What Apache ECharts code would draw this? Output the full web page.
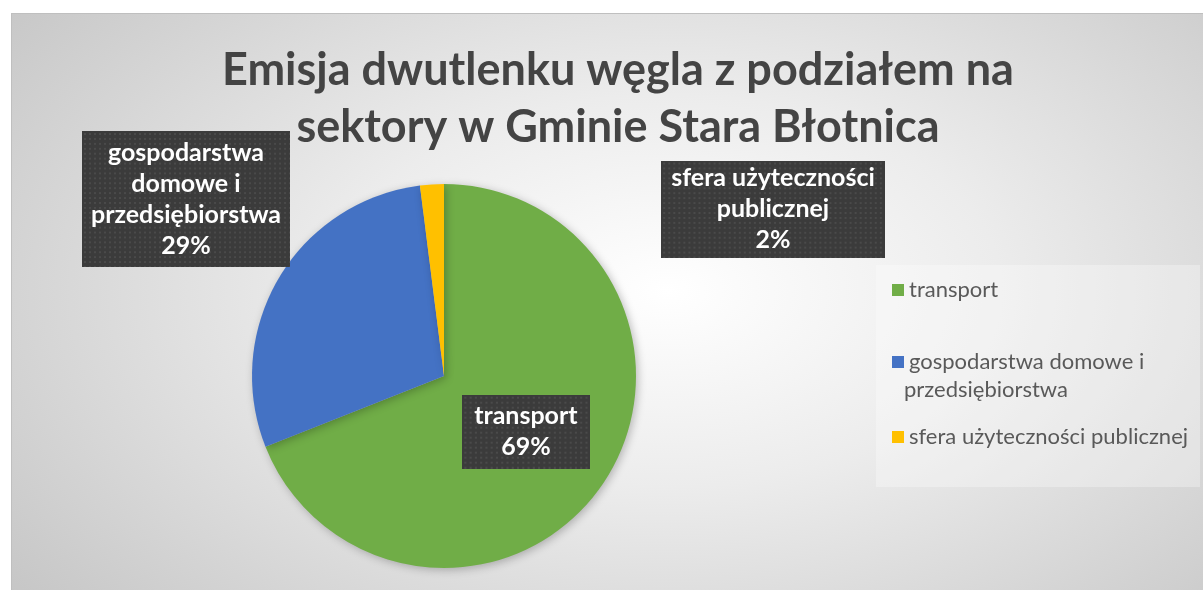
<!DOCTYPE html>
<html>
<head>
<meta charset="utf-8">
<script src="https://cdn.jsdelivr.net/npm/echarts@6/dist/echarts.min.js"></script>
<style>
html, body { margin: 0; padding: 0; background: #fff; }
#frame {
    position: absolute; left: 11px; top: 13px; width: 1192px; height: 577px;
    border-top: 1px solid #bfbfbf; border-left: 1px solid #bfbfbf;
    background: radial-gradient(ellipse 70% 85% at 55% 48%, #ffffff 0%, #ececec 40%, #c6c6c6 100%);
}
#chart { position: absolute; left: 0; top: 0; width: 1203px; height: 590px; }
</style>
</head>
<body>
<div id="frame"></div>
<div id="chart"></div>
<script>
// dane z wykresu
const categories = ['transport', 'gospodarstwa domowe i przedsiębiorstwa', 'sfera użyteczności publicznej'];
const shares = [69, 29, 2];
const labelNames = ['transport', 'gospodarstwa\ndomowe i\nprzedsiębiorstwa', 'sfera użyteczności\npublicznej'];
const legendFirstLines = ['transport', 'gospodarstwa domowe i', 'sfera użyteczności publicznej'];
const colors = ['#70AD47', '#4472C4', '#FFC000'];

const font = 'Lato, "Open Sans", sans-serif';

// kropkowane tło etykiet
function dots(w, h) {
    const c = document.createElement('canvas');
    c.width = w; c.height = h;
    const g = c.getContext('2d');
    g.fillStyle = '#3b3b3b';
    g.fillRect(0, 0, w, h);
    g.fillStyle = '#4a4a4a';
    for (let y = 2; y < h; y += 5) {
        for (let x = 2; x < w; x += 5) g.fillRect(x, y, 2, 2);
    }
    return c;
}

const labelBoxes = [[121, 74], [208, 138], [222, 98]];
const labelPads = [[6, 12], [6, 9], [2, 10]];
const labelAnchors = [null, [186, 199], [773, 209]];

const chart = echarts.init(document.getElementById('chart'));

const legends = [274, 346, 421].map((top, i) => ({
    data: [categories[i]],
    left: 887,
    top: top,
    icon: 'rect',
    itemWidth: 12,
    itemHeight: 12,
    selectedMode: false,
    formatter: () => legendFirstLines[i],
    textStyle: { color: '#595959', fontSize: 22, lineHeight: 22, fontFamily: font }
}));

chart.setOption({
    color: colors,
    animation: false,
    title: {
        text: 'Emisja dwutlenku węgla z podziałem na\nsektory w Gminie Stara Błotnica',
        left: 613,
        top: 37,
        textAlign: 'center',
        textStyle: { color: '#444444', fontSize: 45, fontWeight: 'bold', lineHeight: 57, fontFamily: font }
    },
    graphic: [
        {
            type: 'rect', z: 0, silent: true,
            shape: { x: 876, y: 265, width: 324, height: 222 },
            style: { fill: 'rgba(255,255,255,0.3)' }
        },
        {
            type: 'text', z: 10, silent: true,
            x: 904, y: 390,
            style: { text: 'przedsiębiorstwa', fill: '#595959', fontSize: 22, fontFamily: font, verticalAlign: 'middle' }
        }
    ],
    legend: legends,
    series: [{
        type: 'pie',
        center: [444, 376],
        radius: 192,
        startAngle: 90,
        clockwise: true,
        percentPrecision: 0,
        avoidLabelOverlap: false,
        itemStyle: { shadowBlur: 8, shadowColor: 'rgba(0,0,0,0.25)', shadowOffsetX: 2, shadowOffsetY: 2 },
        labelLine: { show: false },
        label: {
            formatter: p => labelNames[p.dataIndex] + '\n' + p.percent + '%',
            color: '#ffffff',
            fontSize: 25,
            fontWeight: 'bold',
            lineHeight: 31,
            fontFamily: font,
            align: 'center',
            shadowBlur: 6,
            shadowColor: 'rgba(0,0,0,0.55)',
            shadowOffsetX: 3,
            shadowOffsetY: 3
        },
        labelLayout: p => {
            const a = labelAnchors[p.dataIndex];
            if (!a) return;
            return { x: a[0], y: a[1], align: 'center', verticalAlign: 'middle' };
        },
        data: categories.map((name, i) => ({
            name: name,
            value: shares[i],
            label: {
                position: i === 0 ? 'inside' : 'outside',
                padding: labelPads[i],
                backgroundColor: { image: dots(labelBoxes[i][0], labelBoxes[i][1]) }
            }
        }))
    }]
});
</script>
</body>
</html>
